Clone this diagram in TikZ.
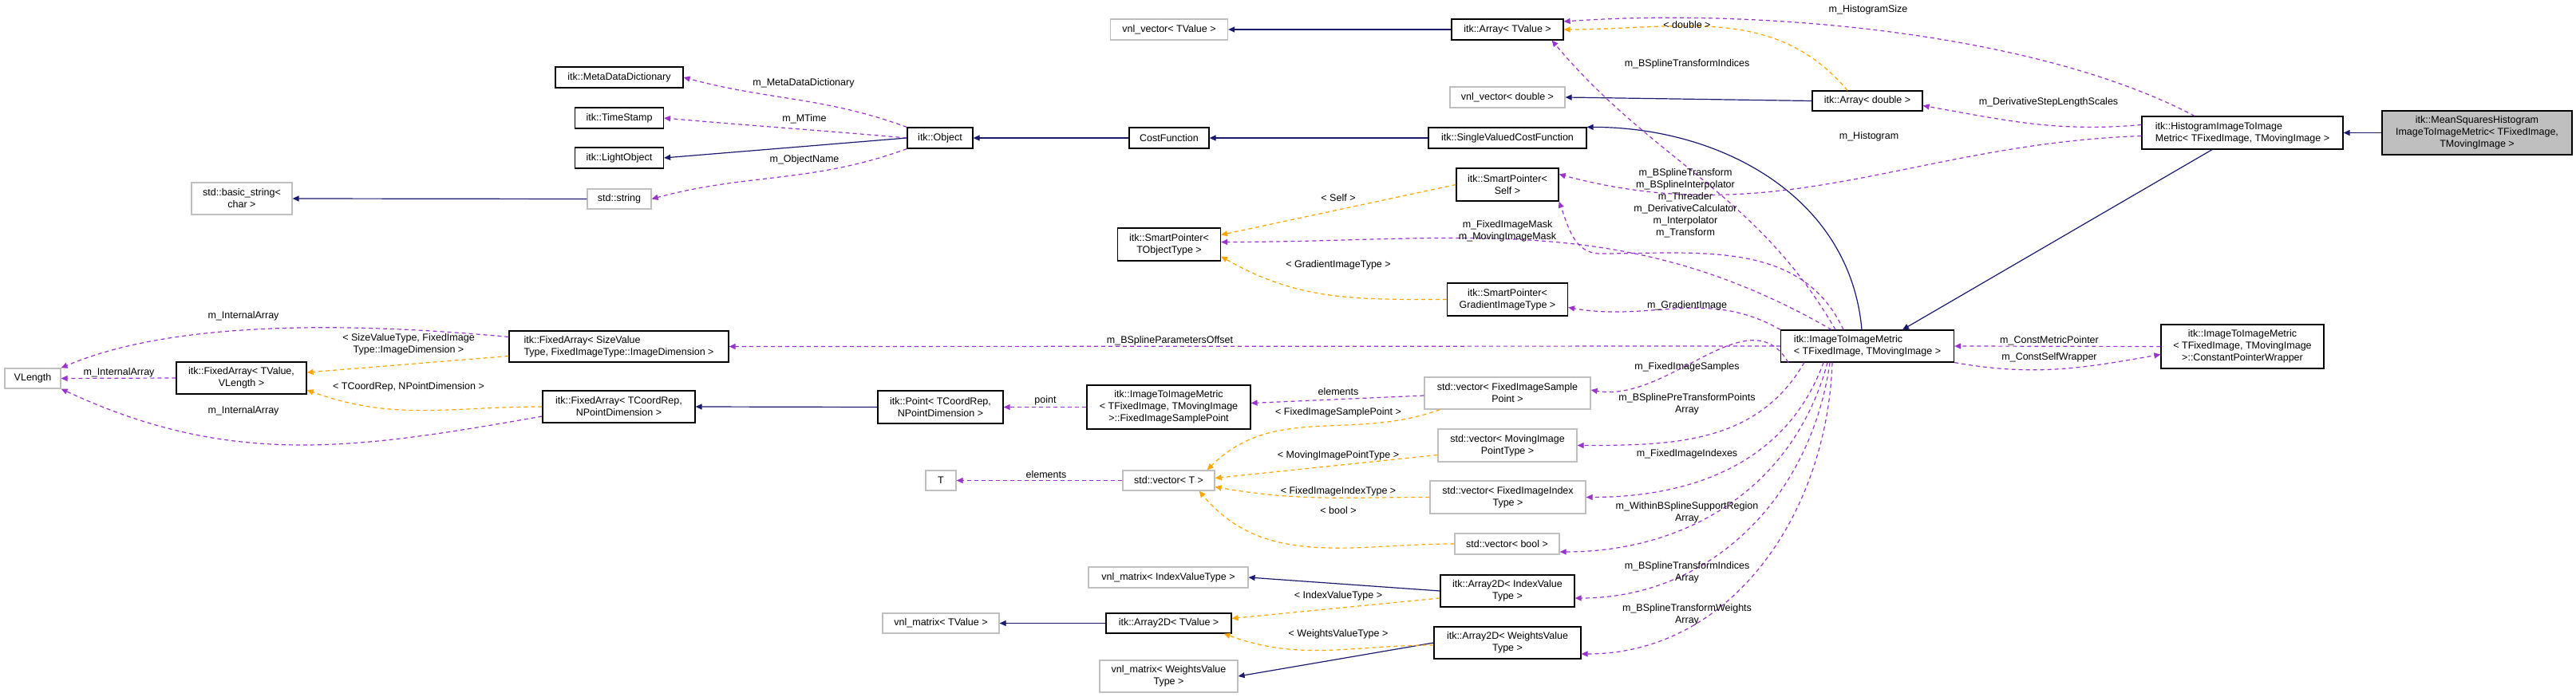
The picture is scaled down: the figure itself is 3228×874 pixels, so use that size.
\documentclass[tikz,border=0pt]{standalone}
\usepackage{fontspec}
\setmainfont{Liberation Sans}
\usetikzlibrary{arrows.meta}
\definecolor{inhblue}{HTML}{191970}
\definecolor{usepurple}{HTML}{9A32CD}
\definecolor{tplorange}{HTML}{FFA500}
\definecolor{extgray}{HTML}{BFBFBF}
\tikzset{
  box/.style={draw, line width=1.2pt, inner sep=2pt, align=center, font=\fontsize{12.5}{15}\selectfont},
  cls/.style={box, draw=black},
  ext/.style={box, draw=extgray},
  lbl/.style={inner sep=0pt, align=center, font=\fontsize{12.5}{15}\selectfont},
  inh/.style={draw=inhblue, line width=1.2pt, -{Triangle[length=8pt,width=7pt,fill=inhblue]}},
  use/.style={draw=usepurple, line width=1.2pt, dash pattern=on 5pt off 4pt, -{Triangle[length=8pt,width=7pt,fill=usepurple]}},
  tpl/.style={draw=tplorange, line width=1.2pt, dash pattern=on 5pt off 4pt, -{Triangle[length=8pt,width=7pt,fill=tplorange]}}
}
\begin{document}
\begin{tikzpicture}[x=1pt,y=-1pt]
\useasboundingbox (0,0) rectangle (3228,874);
% classes
\node[cls, minimum width=160, minimum height=26] (mdd) at (776,97) {itk::MetaDataDictionary};
\node[cls, minimum width=111, minimum height=26] (ts) at (776,148) {itk::TimeStamp};
\node[cls, minimum width=111, minimum height=26] (light) at (776,198) {itk::LightObject};
\node[ext, minimum width=80, minimum height=25] (str) at (776,249.5) {std::string};
\node[ext, minimum width=126, minimum height=40] (bstr) at (303,249) {std::basic\_string<\\char >};
\node[ext, minimum width=147, minimum height=26] (vvT) at (1465,37) {vnl\_vector< TValue >};
\node[cls, minimum width=140, minimum height=26] (arrT) at (1889,37) {itk::Array< TValue >};
\node[ext, minimum width=144, minimum height=26] (vvD) at (1889,122) {vnl\_vector< double >};
\node[cls, minimum width=138, minimum height=25] (arrD) at (2340,126.5) {itk::Array< double >};
\node[cls, minimum width=82, minimum height=26] (obj) at (1178,173) {itk::Object};
\node[cls, minimum width=100, minimum height=26] (cost) at (1465,173) {CostFunction};
\node[cls, minimum width=198, minimum height=26] (svcf) at (1889,173) {itk::SingleValuedCostFunction};
\node[cls, minimum width=128, minimum height=41] (spS) at (1889,231.5) {itk::SmartPointer<\\Self >};
\node[cls, minimum width=129, minimum height=41] (spT) at (1465,306.5) {itk::SmartPointer<\\TObjectType >};
\node[cls, minimum width=151, minimum height=41] (spG) at (1889,375.5) {itk::SmartPointer<\\GradientImageType >};
\node[cls, minimum width=252, minimum height=41, align=left] (hist) at (2810,166.5) {itk::HistogramImageToImage\\Metric< TFixedImage, TMovingImage >};
\node[cls, fill=extgray, minimum width=238, minimum height=55] (msq) at (3104,166.5) {itk::MeanSquaresHistogram\\ImageToImageMetric< TFixedImage,\\TMovingImage >};
\node[cls, minimum width=217, minimum height=40, align=left] (itim) at (2340,434) {itk::ImageToImageMetric\\< TFixedImage, TMovingImage >};
\node[cls, minimum width=204, minimum height=55] (cpw) at (2810,434.5) {itk::ImageToImageMetric\\< TFixedImage, TMovingImage\\ >::ConstantPointerWrapper};
\node[cls, minimum width=275, minimum height=39, align=left] (fas) at (775.5,434.5) {itk::FixedArray< SizeValue\\Type, FixedImageType::ImageDimension >};
\node[ext, minimum width=70, minimum height=25] (vlen) at (41,474.5) {VLength};
\node[cls, minimum width=163, minimum height=40] (fav) at (302.5,474) {itk::FixedArray< TValue,\\VLength >};
\node[cls, minimum width=191, minimum height=40] (fac) at (775.5,510) {itk::FixedArray< TCoordRep,\\NPointDimension >};
\node[cls, minimum width=157, minimum height=41] (pt) at (1178.5,510.5) {itk::Point< TCoordRep,\\NPointDimension >};
\node[cls, minimum width=205, minimum height=55] (fisp) at (1464.5,510.5) {itk::ImageToImageMetric\\< TFixedImage, TMovingImage\\ >::FixedImageSamplePoint};
\node[ext, minimum width=208, minimum height=40] (vFISP) at (1889,493) {std::vector< FixedImageSample\\Point >};
\node[ext, minimum width=174, minimum height=41] (vMov) at (1889,558.5) {std::vector< MovingImage\\PointType >};
\node[ext, minimum width=38, minimum height=25] (tT) at (1179,602.5) {T};
\node[ext, minimum width=115, minimum height=25] (vT) at (1464.5,602.5) {std::vector< T >};
\node[ext, minimum width=195, minimum height=41] (vFI) at (1889.5,623.5) {std::vector< FixedImageIndex\\Type >};
\node[ext, minimum width=131, minimum height=26] (vB) at (1888.5,682) {std::vector< bool >};
\node[ext, minimum width=200, minimum height=26] (vmI) at (1464,724) {vnl\_matrix< IndexValueType >};
\node[cls, minimum width=168, minimum height=40] (a2dI) at (1889,741) {itk::Array2D< IndexValue\\Type >};
\node[ext, minimum width=146, minimum height=25] (vmT) at (1179,781.5) {vnl\_matrix< TValue >};
\node[cls, minimum width=157, minimum height=25] (a2dT) at (1464.5,781.5) {itk::Array2D< TValue >};
\node[cls, minimum width=184, minimum height=40] (a2dW) at (1889,806) {itk::Array2D< WeightsValue\\Type >};
\node[ext, minimum width=173, minimum height=40] (vmW) at (1464.5,848) {vnl\_matrix< WeightsValue\\Type >};
% inheritance
\draw[inh] (str.west) -- (bstr.east);
\draw[inh] (obj.west) -- (light.east);
\draw[inh] (cost.west) -- (obj.east);
\draw[inh] (svcf.west) -- (cost.east);
\draw[inh] (itim.north) ++(-7,0) to[out=95,in=0] (svcf.north east);
\draw[inh] (arrT.west) -- (vvT.east);
\draw[inh] (arrD.west) -- (vvD.east);
\draw[inh] (msq.west) -- (hist.east);
\draw[inh] (hist.south) ++(-38,0) -- ([xshift=44]itim.north);
\draw[inh] (pt.west) -- (fac.east);
\draw[inh] (a2dI.west) -- (vmI.east);
\draw[inh] (a2dT.west) -- (vmT.east);
\draw[inh] (a2dW.west) -- (vmW.east);
% templates
\draw[tpl] ([xshift=-25]arrD.north) to[out=130,in=0] (arrT.east);
\draw[tpl] (spS.west) -- ([yshift=12]spT.east);
\draw[tpl] (spG.west) to[out=180,in=-30] ([yshift=-15]spT.east);
\draw[tpl] ([yshift=-12]fas.west) -- ([yshift=7]fav.east);
\draw[tpl] (fac.west) to[out=180,in=-20] ([yshift=-15]fav.east);
\draw[tpl] ([xshift=20]vFISP.south west) to[out=200,in=45] ([xshift=-10]vT.north east);
\draw[tpl] ([yshift=-12]vMov.west) -- ([yshift=3]vT.east);
\draw[tpl] (vFI.west) to[out=180,in=-10] ([yshift=-8]vT.east);
\draw[tpl] (vB.west) to[out=180,in=-50] ([xshift=-20]vT.south east);
\draw[tpl] ([yshift=-9]a2dI.west) -- ([yshift=6]a2dT.east);
\draw[tpl] ([yshift=-3]a2dW.west) to[out=180,in=-20] ([xshift=-10]a2dT.south east);
% usage
\draw[use] (obj.north west) to[out=160,in=-15] (mdd.east);
\draw[use] (obj.west) to[out=175,in=-5] (ts.east);
\draw[use] (obj.south west) to[out=200,in=15] (str.east);
\draw[use] (fav.west) -- (vlen.east);
\draw[use] ([yshift=12]fas.west) .. controls (450,405) and (220,400) .. (vlen.north east);
\draw[use] ([yshift=-12]fac.west) to[out=190,in=-25] (vlen.south east);
\draw[use] (vT.west) -- (tT.east);
\draw[use] (fisp.west) -- (pt.east);
\draw[use] ([yshift=-3]vFISP.west) -- ([yshift=5]fisp.east);
\draw[use] ([xshift=-60]hist.north) .. controls (2550,40) and (2200,10) .. ([yshift=10]arrT.east);
\draw[use] ([xshift=-40]itim.north) to[out=120,in=-50] ([xshift=-15]arrT.south east);
\draw[use] ([yshift=10]hist.west) to[out=185,in=-10] ([yshift=-6]arrD.east);
\draw[use] ([yshift=-4]hist.west) to[out=182,in=-15] ([yshift=13]spS.east);
\draw[use] ([xshift=-30]itim.north) to[out=115,in=0] (2005,318) to[out=180,in=-70] (spS.south east);
\draw[use] ([xshift=-45]itim.north) to[out=150,in=0] ([yshift=3]spT.east);
\draw[use] (itim.north west) to[out=150,in=-10] ([yshift=-10]spG.east);
\draw[use] (itim.west) -- (fas.east);
\draw[use] (itim.south west) ++(10,0) to[out=120,in=-10] ([yshift=4]vFISP.east);
\draw[use] (itim.south west) ++(30,0) to[out=240,in=0] (vMov.east);
\draw[use] ([xshift=-55]itim.south) to[out=250,in=0] (vFI.east);
\draw[use] ([xshift=-50]itim.south) to[out=255,in=0] ([yshift=-10]vB.east);
\draw[use] ([xshift=-47]itim.south) to[out=262,in=0] ([yshift=-9]a2dI.east);
\draw[use] ([xshift=-44]itim.south) to[out=268,in=0] ([yshift=-14]a2dW.east);
\draw[use] (cpw.west) -- (itim.east);
\draw[use] (itim.south east) to[out=-10,in=190] ([yshift=-10]cpw.west);
% labels
\node[lbl] (lMdd) at (1007,104) {m\_MetaDataDictionary};
\node[lbl] (lMt) at (1008,149) {m\_MTime};
\node[lbl] (lOn) at (1008,200) {m\_ObjectName};
\node[lbl] (lIa1) at (305,396) {m\_InternalArray};
\node[lbl] (lIa2) at (149,467) {m\_InternalArray};
\node[lbl] (lIa3) at (305,515) {m\_InternalArray};
\node[lbl] (lSv) at (512,432) {< SizeValueType, FixedImage\\Type::ImageDimension >};
\node[lbl] (lCr) at (512,485) {< TCoordRep, NPointDimension >};
\node[lbl] (lDb) at (2114,31) {< double >};
\node[lbl] (lBti) at (2114,80) {m\_BSplineTransformIndices};
\node[lbl] (lSelf) at (1677,248) {< Self >};
\node[lbl] (lMask) at (1889,290) {m\_FixedImageMask\\m\_MovingImageMask};
\node[lbl] (lGit) at (1677,332) {< GradientImageType >};
\node[lbl] (lBst) at (2112,255) {m\_BSplineTransform\\m\_BSplineInterpolator\\m\_Threader\\m\_DerivativeCalculator\\m\_Interpolator\\m\_Transform};
\node[lbl] (lGi) at (2114,383) {m\_GradientImage};
\node[lbl] (lBpo) at (1466,427) {m\_BSplineParametersOffset};
\node[lbl] (lEl1) at (1677,491) {elements};
\node[lbl] (lPt) at (1310,502) {point};
\node[lbl] (lFsp) at (1677,517) {< FixedImageSamplePoint >};
\node[lbl] (lMpt) at (1677,571) {< MovingImagePointType >};
\node[lbl] (lEl2) at (1311,595) {elements};
\node[lbl] (lFit) at (1677,616) {< FixedImageIndexType >};
\node[lbl] (lBool) at (1677,640) {< bool >};
\node[lbl] (lIvt) at (1677,747) {< IndexValueType >};
\node[lbl] (lWvt) at (1677,795) {< WeightsValueType >};
\node[lbl] (lFis) at (2114,460) {m\_FixedImageSamples};
\node[lbl] (lPre) at (2114,507) {m\_BSplinePreTransformPoints\\Array};
\node[lbl] (lFix) at (2114,569) {m\_FixedImageIndexes};
\node[lbl] (lWbs) at (2114,643) {m\_WithinBSplineSupportRegion\\Array};
\node[lbl] (lBtiA) at (2114,718) {m\_BSplineTransformIndices\\Array};
\node[lbl] (lBtw) at (2114,771) {m\_BSplineTransformWeights\\Array};
\node[lbl] (lHs) at (2341,12) {m\_HistogramSize};
\node[lbl] (lDsl) at (2567,128) {m\_DerivativeStepLengthScales};
\node[lbl] (lHi) at (2342,171) {m\_Histogram};
\node[lbl] (lCmp) at (2568,427) {m\_ConstMetricPointer};
\node[lbl] (lCsw) at (2568,448) {m\_ConstSelfWrapper};
\end{tikzpicture}
\end{document}
